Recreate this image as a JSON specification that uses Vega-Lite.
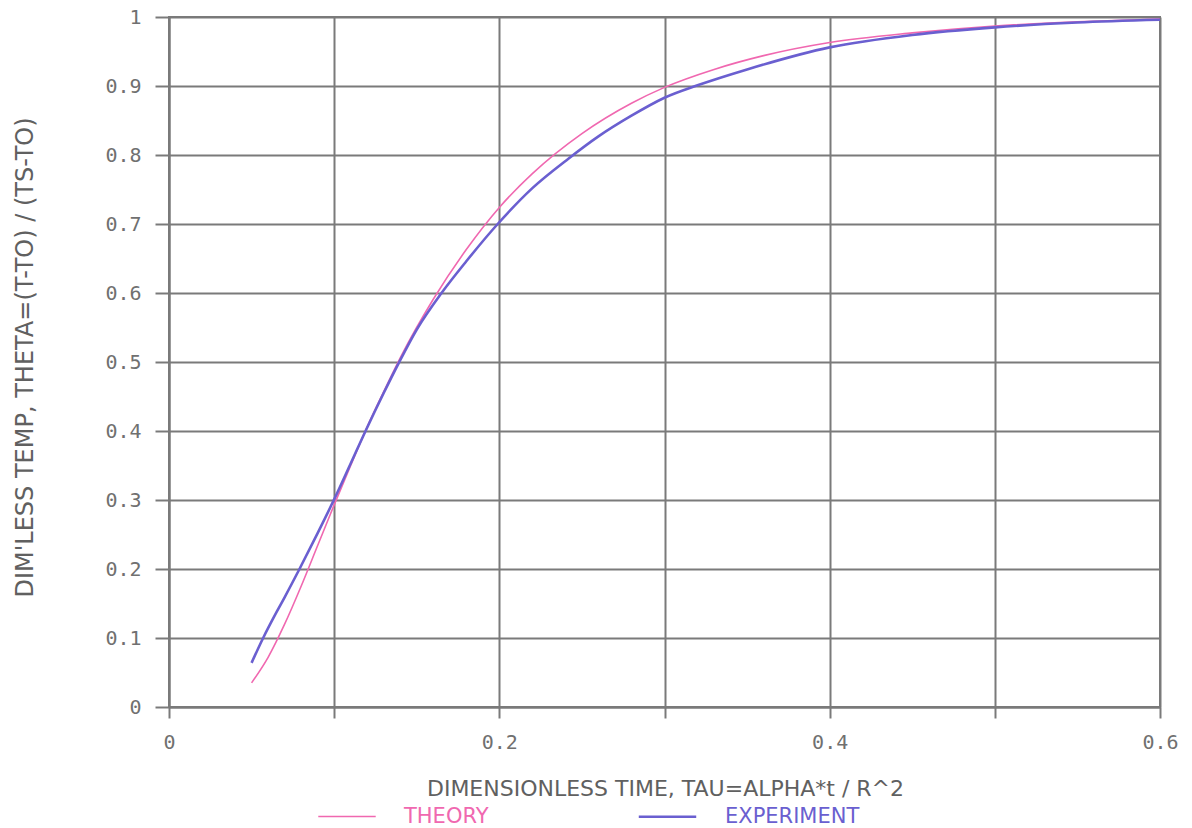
{
  "$schema": "https://vega.github.io/schema/vega-lite/v6.json",
  "autosize": {"type": "none"},
  "width": 991,
  "height": 690,
  "padding": {"left": 169, "top": 17, "right": 32, "bottom": 121},
  "background": "white",
  "config": {
    "view": {"stroke": "#7a7a7a", "strokeWidth": 2},
    "font": "DejaVu Sans"
  },
  "data": {
    "values": [
      {"series": "THEORY", "tau": 0.05, "theta": 0.035},
      {"series": "THEORY", "tau": 0.06, "theta": 0.072},
      {"series": "THEORY", "tau": 0.07, "theta": 0.120},
      {"series": "THEORY", "tau": 0.08, "theta": 0.175},
      {"series": "THEORY", "tau": 0.09, "theta": 0.234},
      {"series": "THEORY", "tau": 0.10, "theta": 0.293},
      {"series": "THEORY", "tau": 0.11, "theta": 0.350},
      {"series": "THEORY", "tau": 0.12, "theta": 0.406},
      {"series": "THEORY", "tau": 0.13, "theta": 0.457},
      {"series": "THEORY", "tau": 0.14, "theta": 0.506},
      {"series": "THEORY", "tau": 0.16, "theta": 0.591},
      {"series": "THEORY", "tau": 0.18, "theta": 0.663},
      {"series": "THEORY", "tau": 0.20, "theta": 0.724},
      {"series": "THEORY", "tau": 0.22, "theta": 0.773},
      {"series": "THEORY", "tau": 0.25, "theta": 0.831},
      {"series": "THEORY", "tau": 0.28, "theta": 0.875},
      {"series": "THEORY", "tau": 0.30, "theta": 0.898},
      {"series": "THEORY", "tau": 0.33, "theta": 0.924},
      {"series": "THEORY", "tau": 0.36, "theta": 0.944},
      {"series": "THEORY", "tau": 0.40, "theta": 0.963},
      {"series": "THEORY", "tau": 0.45, "theta": 0.977},
      {"series": "THEORY", "tau": 0.50, "theta": 0.987},
      {"series": "THEORY", "tau": 0.55, "theta": 0.993},
      {"series": "THEORY", "tau": 0.60, "theta": 0.997},
      {"series": "EXPERIMENT", "tau": 0.05, "theta": 0.064},
      {"series": "EXPERIMENT", "tau": 0.057, "theta": 0.100},
      {"series": "EXPERIMENT", "tau": 0.065, "theta": 0.137},
      {"series": "EXPERIMENT", "tau": 0.07, "theta": 0.159},
      {"series": "EXPERIMENT", "tau": 0.079, "theta": 0.200},
      {"series": "EXPERIMENT", "tau": 0.09, "theta": 0.252},
      {"series": "EXPERIMENT", "tau": 0.10, "theta": 0.301},
      {"series": "EXPERIMENT", "tau": 0.11, "theta": 0.353},
      {"series": "EXPERIMENT", "tau": 0.119, "theta": 0.400},
      {"series": "EXPERIMENT", "tau": 0.13, "theta": 0.455},
      {"series": "EXPERIMENT", "tau": 0.139, "theta": 0.498},
      {"series": "EXPERIMENT", "tau": 0.15, "theta": 0.547},
      {"series": "EXPERIMENT", "tau": 0.165, "theta": 0.600},
      {"series": "EXPERIMENT", "tau": 0.18, "theta": 0.646},
      {"series": "EXPERIMENT", "tau": 0.199, "theta": 0.700},
      {"series": "EXPERIMENT", "tau": 0.22, "theta": 0.752},
      {"series": "EXPERIMENT", "tau": 0.242, "theta": 0.795},
      {"series": "EXPERIMENT", "tau": 0.26, "theta": 0.827},
      {"series": "EXPERIMENT", "tau": 0.28, "theta": 0.857},
      {"series": "EXPERIMENT", "tau": 0.30, "theta": 0.883},
      {"series": "EXPERIMENT", "tau": 0.32, "theta": 0.901},
      {"series": "EXPERIMENT", "tau": 0.35, "theta": 0.924},
      {"series": "EXPERIMENT", "tau": 0.40, "theta": 0.956},
      {"series": "EXPERIMENT", "tau": 0.45, "theta": 0.974},
      {"series": "EXPERIMENT", "tau": 0.50, "theta": 0.985},
      {"series": "EXPERIMENT", "tau": 0.55, "theta": 0.992},
      {"series": "EXPERIMENT", "tau": 0.60, "theta": 0.996}
    ]
  },
  "mark": {"type": "line", "interpolate": "monotone"},
  "encoding": {
    "x": {
      "field": "tau", "type": "quantitative",
      "scale": {"domain": [0, 0.6], "nice": false, "zero": false},
      "axis": {
        "values": [0, 0.1, 0.2, 0.3, 0.4, 0.5, 0.6],
        "labelExpr": "round(datum.value*10)%2==0 ? format(datum.value,'~g') : ''",
        "grid": true, "gridColor": "#7a7a7a", "gridWidth": 2, "gridOpacity": 1,
        "domainColor": "#7a7a7a", "domainWidth": 2,
        "tickColor": "#7a7a7a", "tickWidth": 2, "tickSize": 11,
        "labelFontSize": 20, "labelColor": "#707070", "labelPadding": 14, "labelFont": "DejaVu Sans Mono",
        "labelFlush": false,
        "title": "DIMENSIONLESS TIME, TAU=ALPHA*t / R^2",
        "titleFont": "DejaVu Sans", "titleFontSize": 22, "titleFontWeight": "normal",
        "titleColor": "#606060", "titleBaseline": "middle", "titleY": 81, "titleX": 496
      }
    },
    "y": {
      "field": "theta", "type": "quantitative",
      "scale": {"domain": [0, 1], "nice": false, "zero": false},
      "axis": {
        "values": [0, 0.1, 0.2, 0.3, 0.4, 0.5, 0.6, 0.7, 0.8, 0.9, 1],
        "labelExpr": "format(datum.value,'~g')",
        "grid": true, "gridColor": "#7a7a7a", "gridWidth": 2, "gridOpacity": 1,
        "domainColor": "#7a7a7a", "domainWidth": 2,
        "tickColor": "#7a7a7a", "tickWidth": 2, "tickSize": 14,
        "labelFontSize": 20, "labelColor": "#707070", "labelPadding": 14, "labelFont": "DejaVu Sans Mono",
        "labelFlush": false,
        "title": "DIM'LESS TEMP, THETA=(T-TO) / (TS-TO)",
        "titleFont": "DejaVu Sans", "titleFontSize": 24, "titleFontWeight": "normal",
        "titleColor": "#606060", "titleBaseline": "middle", "titleX": -144, "titleY": 340, "titleAngle": -90
      }
    },
    "color": {
      "field": "series", "type": "nominal",
      "scale": {"domain": ["THEORY", "EXPERIMENT"], "range": ["#f068b0", "#6a5fd0"]},
      "legend": {
        "orient": "none", "direction": "horizontal", "legendX": 148, "legendY": 769,
        "title": null, "symbolType": "stroke", "symbolSize": 3300, "symbolStrokeWidth": 2.5,
        "labelFontSize": 21, "labelFont": "DejaVu Sans", "labelOffset": 27, "columnPadding": 144,
        "labelLimit": 400,
        "encode": {
          "labels": {"update": {"fill": {"signal": "datum.value === 'THEORY' ? '#f068b0' : '#6a5fd0'"}}},
          "symbols": {"update": {"strokeWidth": {"value": 2.5}}}
        }
      }
    },
    "strokeWidth": {
      "field": "series", "type": "nominal",
      "scale": {"domain": ["THEORY", "EXPERIMENT"], "range": [1.6, 2.6]},
      "legend": null
    }
  }
}
